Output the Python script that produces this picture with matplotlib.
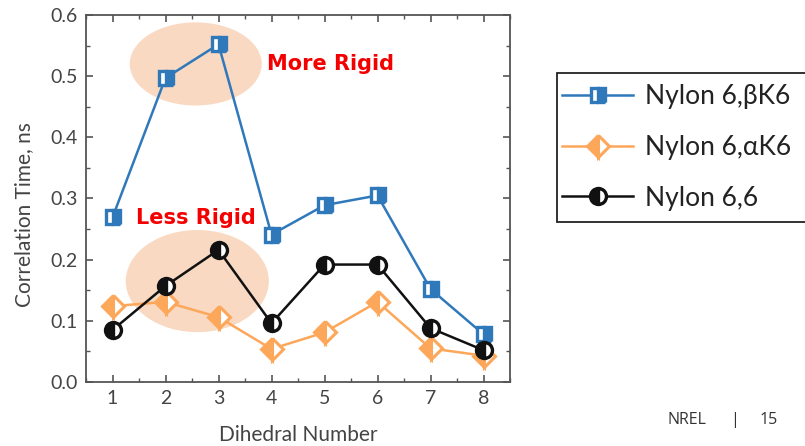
import matplotlib
matplotlib.use("Agg")
import matplotlib.pyplot as plt
from matplotlib.patches import Ellipse, Rectangle
from matplotlib.lines import Line2D
from matplotlib.ticker import MultipleLocator, FormatStrFormatter

plt.rcParams['font.family'] = ['Lato', 'DejaVu Sans']

dihedral = [1, 2, 3, 4, 5, 6, 7, 8]
beta_k6 = [0.269, 0.497, 0.552, 0.241, 0.289, 0.305, 0.152, 0.078]
alpha_k6 = [0.124, 0.131, 0.106, 0.054, 0.081, 0.131, 0.055, 0.043]
nylon66 = [0.085, 0.157, 0.216, 0.096, 0.192, 0.192, 0.088, 0.052]
labels = ["Nylon 6,βK6", "Nylon 6,αK6", "Nylon 6,6"]

blue = '#2f79bb'
orange = '#fca75a'
black = '#111111'
gray = '#444444'

fig = plt.figure(figsize=(8.05, 4.46), dpi=100)
ax = fig.add_axes([86/805, 1-382/446, (510-86)/805, (382-15)/446])

for (cx, cy, w, h) in [(2.57, 0.52, 2.49, 0.136), (2.60, 0.165, 2.70, 0.167)]:
    ax.add_patch(Ellipse((cx, cy), w, h, facecolor='#f9d3b8', edgecolor='none', alpha=0.85, zorder=1))

sq = dict(marker='s', ms=10.5, mew=2.4, fillstyle='right', markerfacecoloralt='white')
di = dict(marker='D', ms=11, mew=2.2, fillstyle='left', markerfacecoloralt='white')
ci = dict(marker='o', ms=11.5, mew=2.4, fillstyle='left', markerfacecoloralt='white')

ax.plot(dihedral, beta_k6, color=blue, lw=1.8, mec=blue, mfc=blue, zorder=3, **sq)
ax.plot(dihedral, alpha_k6, color=orange, lw=1.8, mec=orange, mfc=orange, zorder=3, **di)
ax.plot(dihedral, nylon66, color=black, lw=1.8, mec=black, mfc=black, zorder=4, **ci)

ax.text(3.92, 0.52, "More Rigid", color='#f50000', fontsize=15, fontweight='bold',
        family='DejaVu Sans', va='center', ha='left', zorder=5)
ax.text(1.44, 0.2675, "Less Rigid", color='#f50000', fontsize=15, fontweight='bold',
        family='DejaVu Sans', va='center', ha='left', zorder=5)

ax.set_xlim(0.5, 8.5)
ax.set_ylim(0, 0.6)
ax.xaxis.set_major_locator(MultipleLocator(1))
ax.xaxis.set_minor_locator(MultipleLocator(0.5))
ax.yaxis.set_major_locator(MultipleLocator(0.1))
ax.yaxis.set_minor_locator(MultipleLocator(0.05))
ax.yaxis.set_major_formatter(FormatStrFormatter('%.1f'))
ax.tick_params(which='both', direction='in', top=True, right=True, color='#555555')
ax.tick_params(which='major', length=5, width=1.2, labelsize=14, labelcolor=gray, pad=6)
ax.tick_params(which='minor', length=3, width=1)
for s in ax.spines.values():
    s.set_color('#555555')
    s.set_linewidth(1.3)

ax.set_xlabel("Dihedral Number", fontsize=15, color=gray)
ax.xaxis.set_label_coords(0.5, 1-(425-15)/367)
ax.set_ylabel("Correlation Time, ns", fontsize=15, color=gray)
ax.yaxis.set_label_coords(-0.122, 0.455)

# legend frame (cut off at the right edge like the reference)
fig.patches.append(Rectangle((557/805, 1-222/446), 0.4, (222-73)/446,
                             transform=fig.transFigure, facecolor='white',
                             edgecolor='#222222', lw=1.3, zorder=0))
handles = [
    Line2D([], [], color=blue, lw=1.8, mec=blue, mfc=blue, **sq),
    Line2D([], [], color=orange, lw=1.8, mec=orange, mfc=orange, **di),
    Line2D([], [], color=black, lw=1.8, mec=black, mfc=black, **ci),
]
leg = fig.legend(handles, labels, loc='upper left', bbox_to_anchor=(562/805, 1-84/446),
                 frameon=False, fontsize=19, handlelength=2.7, handletextpad=0.45,
                 labelspacing=0.98, borderaxespad=0, borderpad=0)
for t in leg.get_texts():
    t.set_color('#222222')

fig.text(667/805, 1-420/446, "NREL", fontsize=11.5, color='#333333',
         family='Open Sans', va='center', ha='left')
fig.text(735/805, 1-420/446, "|", fontsize=11.5, color='#333333',
         family='Open Sans', va='center', ha='center')
fig.text(760/805, 1-420/446, "15", fontsize=11.5, color='#333333',
         family='Open Sans', va='center', ha='left')

fig.savefig("out.png", dpi=100)
